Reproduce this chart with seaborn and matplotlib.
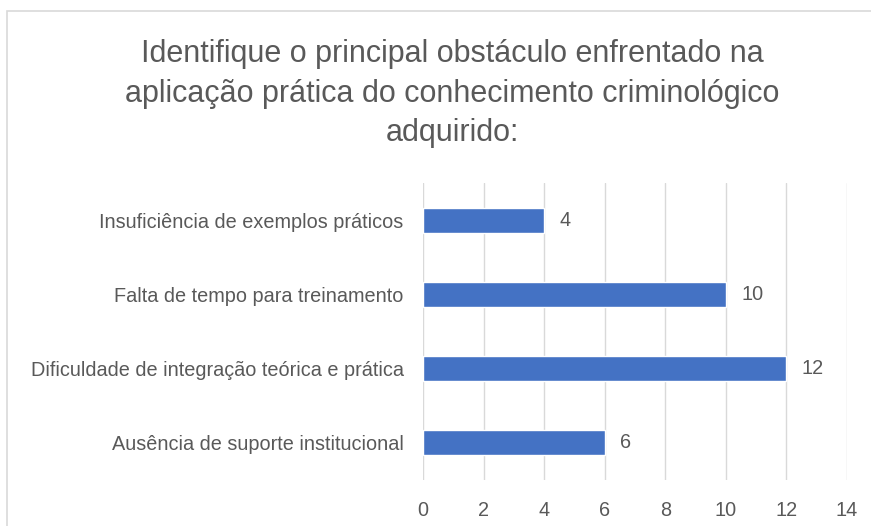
import pandas as pd
import matplotlib.pyplot as plt
import seaborn as sns
from matplotlib.patches import Rectangle

# dados
categorias = ['Insuficiência de exemplos práticos',
              'Falta de tempo para treinamento',
              'Dificuldade de integração teórica e prática',
              'Ausência de suporte institucional']
valores = [4, 10, 12, 6]
ticks_x = [0, 2, 4, 6, 8, 10, 12, 14]

df = pd.DataFrame({'obstaculo': categorias, 'n': valores})

sns.set_style('white')
plt.rcParams['font.family'] = ['Liberation Sans', 'DejaVu Sans']

texto = '#595959'
fig = plt.figure(figsize=(8.71, 5.26), dpi=100)
ax = fig.add_axes([0.4856, 0.0875, 0.4869, 0.5645])

sns.barplot(data=df, x='n', y='obstaculo', orient='h', color='#4472C4',
            width=0.34, saturation=1, ax=ax, zorder=3)

ax.set_xlim(0, 14)
ax.set_ylim(3.5, -0.5)
ax.set_xticks(ticks_x)
ax.grid(axis='x', color='#D9D9D9', linewidth=1, zorder=0)
ax.grid(axis='y', visible=False)
for s in ax.spines.values():
    s.set_visible(False)
ax.set_xlabel('')
ax.set_ylabel('')
ax.tick_params(axis='x', length=0, pad=15, labelsize=14.3, labelcolor=texto)
ax.tick_params(axis='y', length=0, pad=14, labelsize=14.3, labelcolor=texto)

# rótulos de dados
for i, v in enumerate(valores):
    ax.text(v + 0.5, i, str(v), va='center', ha='left', fontsize=14.3, color=texto)

fig.text(0.519, 0.822, 'Identifique o principal obstáculo enfrentado na\n'
         'aplicação prática do conhecimento criminológico\nadquirido:',
         ha='center', va='center', fontsize=22, color=texto, linespacing=1.4)

# borda do gráfico
fig.patches.append(Rectangle((7 / 871, -0.05), 1.1, 1 - 11 / 526 + 0.05,
                             transform=fig.transFigure, fill=False,
                             edgecolor='#D9D9D9', linewidth=1.2))

fig.savefig('out.png', dpi=100)
